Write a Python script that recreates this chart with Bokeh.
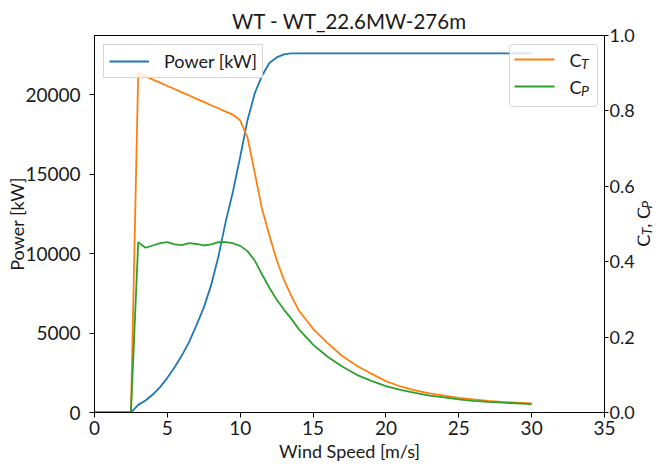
import math
from bokeh.plotting import figure
from bokeh.layouts import row
from bokeh.models import (Range1d, LinearAxis, Legend, LegendItem, Label, FixedTicker,
                          PrintfTickFormatter, BoxAnnotation, Arrow)
from bokeh.embed import file_html
from bokeh.resources import INLINE

title_text = "WT - WT_22.6MW-276m"

wind_speed = [0, 2.5, 3, 3.5, 4, 4.5, 5, 5.5, 6, 6.5, 7, 7.5, 8, 8.5, 9, 9.5, 10, 10.5,
              11, 11.5, 12, 12.5, 13, 13.5, 14, 15, 16, 17, 18, 19, 20, 21, 22, 23, 24,
              25, 26, 27, 28, 29, 30]
power_kw = [0, 0, 480, 760, 1130, 1600, 2180, 2850, 3600, 4450, 5500, 6600, 8000, 9800,
            12000, 13900, 16100, 18400, 20100, 21200, 22000, 22350, 22540, 22600, 22600,
            22600, 22600, 22600, 22600, 22600, 22600, 22600, 22600, 22600, 22600, 22600,
            22600, 22600, 22600, 22600, 22600]
ct = [0, 0, 0.900, 0.892, 0.883, 0.875, 0.866, 0.858, 0.849, 0.841, 0.832, 0.824, 0.815,
      0.807, 0.798, 0.790, 0.775, 0.730, 0.635, 0.540, 0.470, 0.405, 0.352, 0.310, 0.272,
      0.222, 0.184, 0.150, 0.124, 0.103, 0.083, 0.069, 0.059, 0.051, 0.045, 0.039, 0.035,
      0.031, 0.028, 0.026, 0.024]
cp = [0, 0, 0.452, 0.437, 0.443, 0.449, 0.452, 0.446, 0.444, 0.449, 0.447, 0.443, 0.446,
      0.452, 0.452, 0.449, 0.442, 0.428, 0.403, 0.366, 0.331, 0.300, 0.273, 0.249, 0.222,
      0.180, 0.148, 0.122, 0.100, 0.084, 0.070, 0.060, 0.052, 0.045, 0.040, 0.035, 0.031,
      0.028, 0.026, 0.024, 0.022]

power_ticks = [0, 5000, 10000, 15000, 20000]
coef_ticks = [0.0, 0.2, 0.4, 0.6, 0.8, 1.0]
x_ticks = [0, 5, 10, 15, 20, 25, 30, 35]

BLUE, ORANGE, GREEN = "#1f77b4", "#ff7f0e", "#2ca02c"
FONT = "Lato"
TXT = "#1a1a1a"
FS = "18px"
TFS = "19px"

W, H = 637, 464
ML, MR, MT, MB = 94, 31, 35, 52
FW = W - ML - MR
FH = H - MT - MB
W2 = 661 - W

p = figure(width=W, height=H, output_backend="svg", toolbar_location=None,
           x_range=Range1d(0, 35), y_range=Range1d(0, 23730),
           min_border_left=ML, min_border_right=MR, min_border_top=MT, min_border_bottom=MB,
           title=title_text)
p.extra_y_ranges = {"coef": Range1d(0, 1.0)}
p.xgrid.visible = False
p.ygrid.visible = False
p.outline_line_color = "black"
p.outline_line_width = 1
p.background_fill_color = "white"
p.border_fill_color = "white"

p.title.text_font = FONT
p.title.text_font_size = "20.5px"
p.title.text_font_style = "normal"
p.title.align = "center"
p.title.text_color = TXT
p.title.standoff = 6

r_p = p.line(wind_speed, power_kw, color=BLUE, line_width=1.8)
r_ct = p.line(wind_speed, ct, color=ORANGE, line_width=1.8, y_range_name="coef")
r_cp = p.line(wind_speed, cp, color=GREEN, line_width=1.8, y_range_name="coef")

right_axis = LinearAxis(y_range_name="coef")
p.add_layout(right_axis, "right")

for ax in [p.xaxis[0], p.yaxis[0], right_axis]:
    ax.axis_line_color = "black"
    ax.major_tick_line_color = "black"
    ax.major_tick_out = 5
    ax.major_tick_in = 0
    ax.minor_tick_line_color = None
    ax.major_label_text_font = FONT
    ax.major_label_text_font_size = TFS
    ax.major_label_text_color = TXT
    ax.axis_label_text_font = FONT
    ax.axis_label_text_font_size = FS
    ax.axis_label_text_font_style = "normal"
    ax.axis_label_text_color = TXT

p.xaxis[0].ticker = FixedTicker(ticks=x_ticks)
p.xaxis[0].axis_label = "Wind Speed [m/s]"
p.xaxis[0].major_label_standoff = 3
p.xaxis[0].axis_label_standoff = 2
p.yaxis[0].ticker = FixedTicker(ticks=power_ticks)
p.yaxis[0].axis_label = "Power [kW]"
p.yaxis[0].major_label_standoff = 9
p.yaxis[0].axis_label_standoff = -6
right_axis.ticker = FixedTicker(ticks=coef_ticks)
right_axis.formatter = PrintfTickFormatter(format="%.1f")
right_axis.major_label_text_font_size = FS
right_axis.major_tick_out = 4
right_axis.major_label_standoff = 1

# legend for power (Bokeh legend)
leg1 = Legend(items=[LegendItem(label="Power [kW]", renderers=[r_p])], location="top_left")
leg1.label_text_font = FONT
leg1.label_text_font_size = FS
leg1.label_text_color = TXT
leg1.glyph_width = 40
leg1.glyph_height = 20
leg1.label_height = 20
leg1.label_standoff = 15
leg1.padding = 5
leg1.spacing = 7
leg1.margin = 9
leg1.border_line_color = "#cccccc"
leg1.border_line_alpha = 0.8
leg1.background_fill_alpha = 0.8
p.add_layout(leg1)

# legend for C_T / C_P, built from annotations (frame-relative screen units)
L2_W, L2_H = 88, 62
l2_right = FW - 9
l2_left = l2_right - L2_W
l2_top = FH - 9
l2_bottom = l2_top - L2_H
p.add_layout(BoxAnnotation(left=l2_left, right=l2_right, top=l2_top, bottom=l2_bottom,
                           left_units="screen", right_units="screen",
                           top_units="screen", bottom_units="screen",
                           fill_color="white", fill_alpha=0.8,
                           line_color="#cccccc", line_alpha=0.8, line_width=1,
                           border_radius=3))
rows = [(ORANGE, "T", l2_top - 15), (GREEN, "P", l2_top - 42)]
for col, sub, ry in rows:
    p.add_layout(Arrow(x_start=l2_left + 5, y_start=ry, x_end=l2_left + 45, y_end=ry,
                       start_units="screen", end_units="screen", end=None,
                       line_color=col, line_width=1.8))
    p.add_layout(Label(x=l2_left + 60, y=ry, x_units="screen", y_units="screen", text="C",
                       text_font=FONT, text_font_size=FS, text_color=TXT,
                       text_baseline="middle", text_align="left"))
    p.add_layout(Label(x=l2_left + 71.5, y=ry - 4, x_units="screen", y_units="screen",
                       text=sub, text_font=FONT, text_font_size="14px",
                       text_font_style="italic", text_color=TXT,
                       text_baseline="middle", text_align="left"))

# right axis title "C_T, C_P" (rotated) in a narrow side panel without axes.
# The row aligns this panel's frame with the main plot's frame.
p2 = figure(width=W2, height=H, output_backend="svg", toolbar_location=None,
            x_range=Range1d(0, 1), y_range=Range1d(0, 1),
            x_axis_location=None, y_axis_location=None,
            min_border_left=0, min_border_right=0, min_border_top=0, min_border_bottom=0)
p2.grid.visible = False
p2.outline_line_color = None
p2.background_fill_color = "white"
p2.border_fill_color = "white"

pieces = [("C", FS, "normal", 0, 11.5), ("T", "14px", "italic", 4, 7.5),
          (", C", FS, "normal", 0, 19.0), ("P", "14px", "italic", 4, 7.5)]
total = sum(pc[4] for pc in pieces)
ax_x = 647 - W - 5
cur_y = FH / 2 - total / 2
for txt, fs, st, off, adv in pieces:
    p2.add_layout(Label(x=ax_x + off, y=cur_y, x_units="screen", y_units="screen", text=txt,
                        text_font=FONT, text_font_size=fs, text_font_style=st,
                        text_color=TXT, text_baseline="middle", text_align="left",
                        angle=math.pi / 2))
    cur_y += adv

layout = row(p, p2, spacing=0)
open("out.html", "w").write(file_html(layout, INLINE))
